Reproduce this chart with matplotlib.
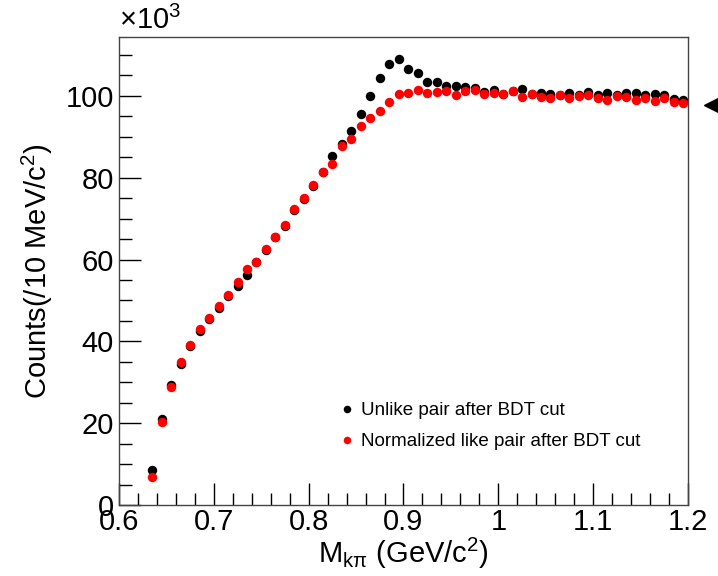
import numpy as np
import matplotlib
matplotlib.use('Agg')
import matplotlib.pyplot as plt
from matplotlib.ticker import MultipleLocator

plt.rcParams['font.family'] = ['Liberation Sans', 'DejaVu Sans']
plt.rcParams['mathtext.fontset'] = 'custom'
plt.rcParams['mathtext.rm'] = 'Liberation Sans'
plt.rcParams['mathtext.it'] = 'Liberation Sans:italic'

# Bin centres of M_kpi (GeV/c^2), 10 MeV bins
masa = np.round(np.arange(0.635, 1.2, 0.01), 3)

# Unlike pair after BDT cut (x10^3 counts)
unlike = [8.7, 21.1, 29.3, 34.6, 39.0, 42.5, 45.5, 48.2, 51.2, 53.5,
          56.3, 59.3, 62.4, 65.5, 68.3, 72.0, 74.9, 78.0, 81.3, 85.2,
          88.3, 91.5, 95.6, 100.0, 104.3, 107.7, 109.0, 106.5, 105.5, 103.4,
          103.4, 102.3, 102.4, 102.2, 101.9, 101.0, 101.5, 100.5, 101.2, 101.7,
          100.5, 100.7, 100.5, 100.3, 100.8, 100.3, 101.0, 100.1, 100.8, 100.2,
          100.6, 100.6, 100.2, 100.5, 100.2, 99.1, 99.0]

# Normalized like pair after BDT cut (x10^3 counts)
like = [6.9, 20.3, 28.9, 35.0, 39.2, 43.0, 45.6, 48.7, 51.3, 54.5,
        57.6, 59.5, 62.5, 65.6, 68.5, 72.3, 75.0, 78.2, 81.5, 83.4,
        87.8, 89.5, 92.6, 94.5, 96.4, 98.5, 100.5, 100.6, 101.5, 100.6,
        101.0, 101.1, 100.2, 101.2, 101.3, 100.5, 100.7, 100.5, 101.2, 99.7,
        100.4, 99.8, 99.5, 100.1, 99.5, 100.0, 100.2, 99.4, 99.0, 100.0,
        99.7, 99.0, 99.4, 98.8, 99.4, 98.5, 98.3]

fig = plt.figure(figsize=(7.18, 5.76), dpi=100)
ax = fig.add_axes([0.1657, 0.123, 0.7925, 0.813])

ax.plot(masa, unlike, 'o', color='black', markersize=6.8, markeredgewidth=0,
        label='Unlike pair after BDT cut')
ax.plot(masa, like, 'o', color='red', markersize=6.8, markeredgewidth=0,
        label='Normalized like pair after BDT cut')

ax.set_xlim(0.6, 1.2)
ax.set_ylim(0, 114.4)
ax.xaxis.set_major_locator(MultipleLocator(0.1))
ax.xaxis.set_minor_locator(MultipleLocator(0.02))
ax.yaxis.set_major_locator(MultipleLocator(20))
ax.yaxis.set_minor_locator(MultipleLocator(5))
ax.xaxis.set_major_formatter(plt.FuncFormatter(lambda v, p: f'{v:g}'))
ax.tick_params(which='both', direction='in', labelsize=21, top=False, right=False)
ax.tick_params(which='major', length=16, width=1)
ax.tick_params(which='minor', length=9, width=1)
ax.tick_params(axis='x', pad=2)
for s in ax.spines.values():
    s.set_linewidth(1)
    s.set_color('#444444')

ax.set_xlabel(r'M$_{\mathrm{kπ}}$ (GeV/c$^{2}$)', fontsize=21, labelpad=0)
ax.set_ylabel(r'Counts(/10 MeV/c$^{2}$)', fontsize=21, labelpad=8)
ax.text(0.0, 1.005, r'$\times$10$^{3}$', transform=ax.transAxes,
        fontsize=21, ha='left', va='bottom')

ax.legend(loc='upper left', bbox_to_anchor=(0.375, 0.24), frameon=False,
          fontsize=13.5, handlelength=0.6, handletextpad=0.45, labelspacing=0.75,
          markerscale=0.8, borderpad=0)

# Arrow marker outside the right edge
ax.plot([1.042], [0.855], marker='<', color='black', markersize=12,
        transform=ax.transAxes, clip_on=False)

fig.savefig('out.png', dpi=100)
